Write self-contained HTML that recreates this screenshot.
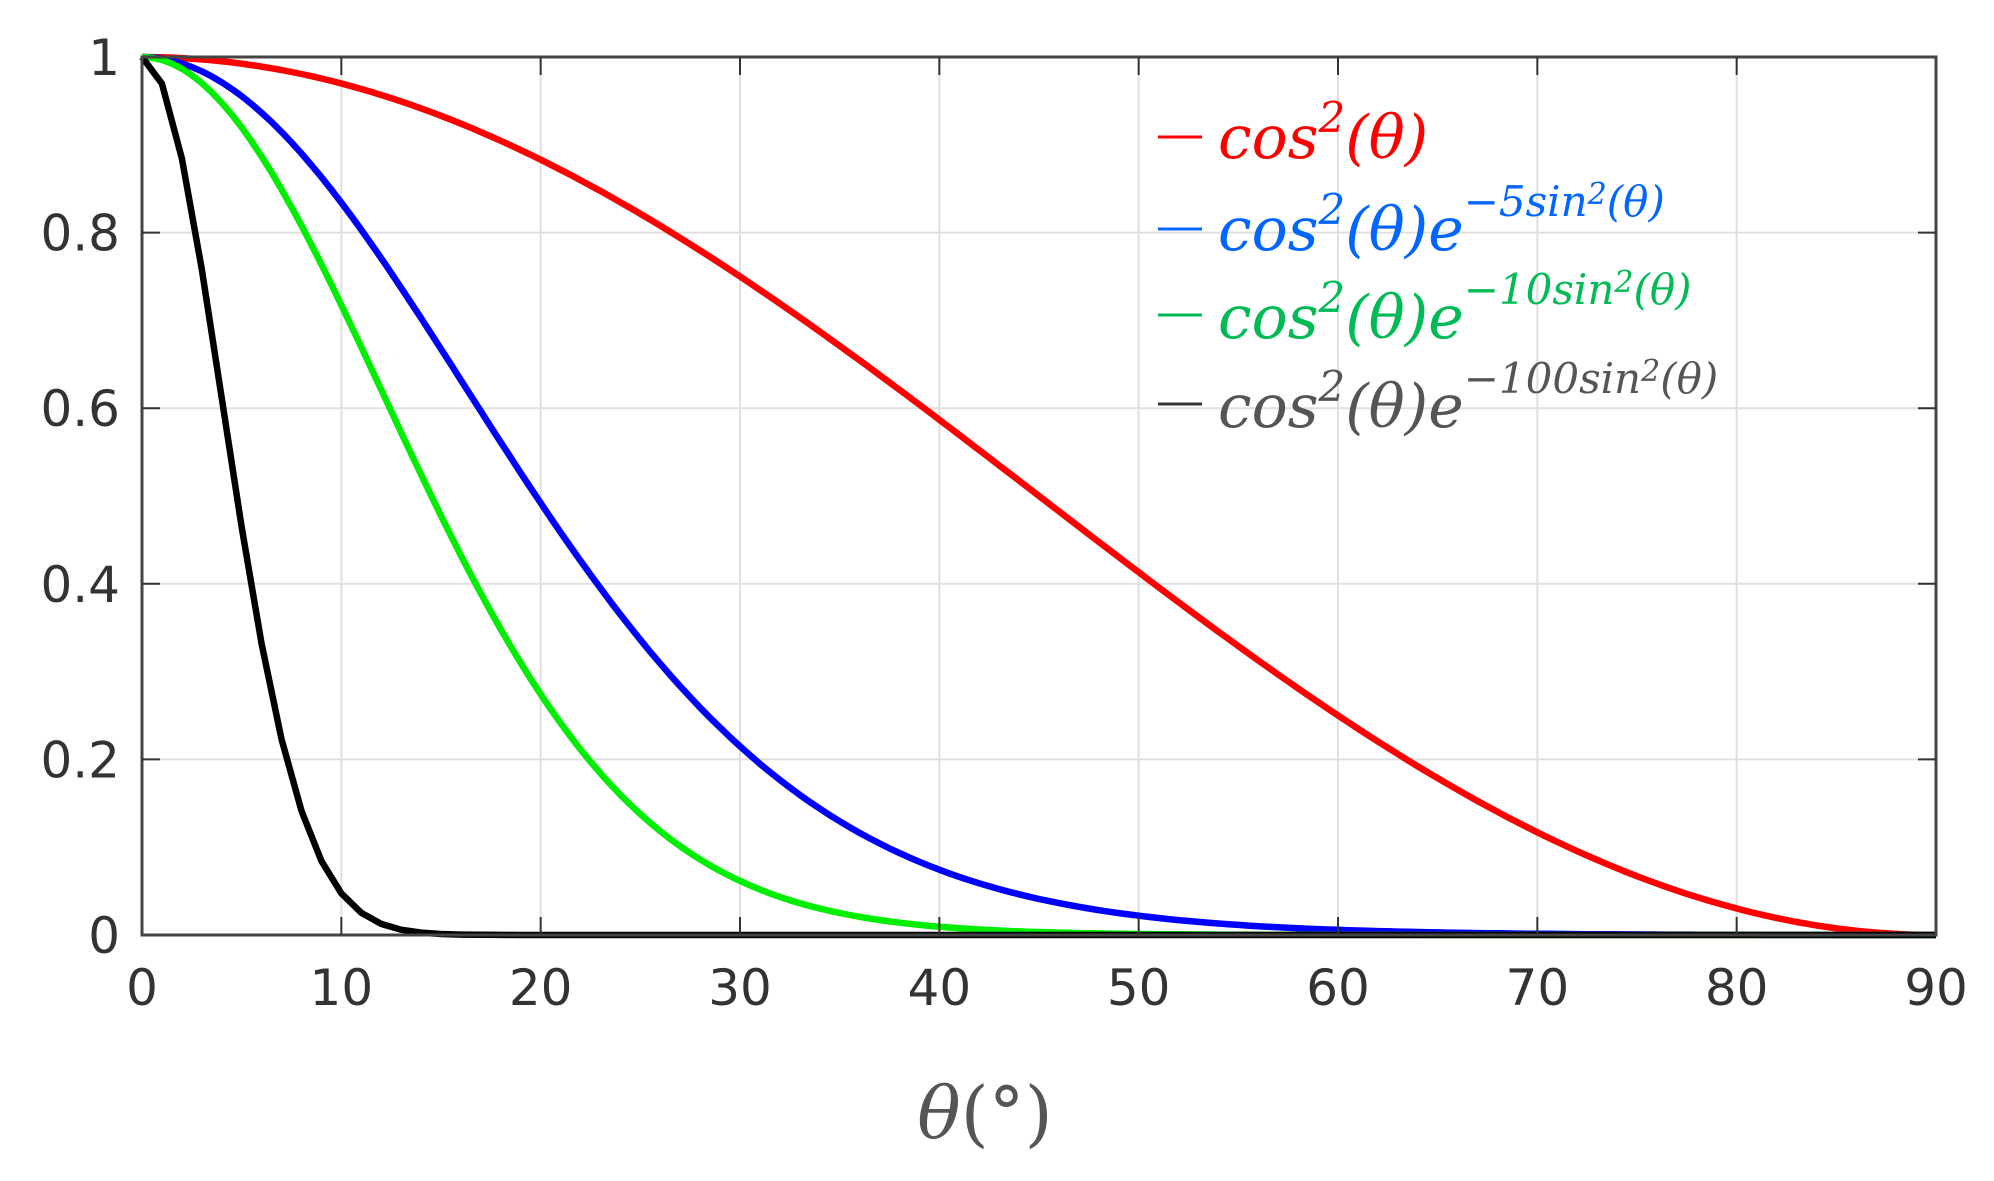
<!DOCTYPE html>
<html><head><meta charset="utf-8"><style>
body{margin:0;background:#fff;}
svg{display:block}
text{font-family:"DejaVu Sans","Liberation Sans",sans-serif;fill:#333}
.leg{font-family:"DejaVu Serif","Liberation Serif",serif;font-style:italic;font-size:60px}
</style></head><body>
<svg id="s" width="1994" height="1181" xmlns="http://www.w3.org/2000/svg">
<g id="grid" stroke="#e0e0e0" stroke-width="2"></g>
<g id="curves" fill="none" stroke-width="6.5" stroke-linejoin="round"></g>
<rect x="142" y="57" width="1794" height="878" fill="none" stroke="#444" stroke-width="3"/>
<g id="ticks" stroke="#333" stroke-width="2"></g>
<g id="labels" font-size="50"></g>
<g>
<line x1="1158" y1="137" x2="1202" y2="137" stroke="#f00" stroke-width="3"/>
<text class="leg" x="1218" y="158" style="fill:#f00">cos<tspan dy="-26" font-size="42">2</tspan><tspan dy="26">(θ)</tspan></text>
<line x1="1158" y1="229" x2="1202" y2="229" stroke="#06f" stroke-width="3"/>
<text class="leg" x="1218" y="250" style="fill:#06f">cos<tspan dy="-26" font-size="42">2</tspan><tspan dy="26">(θ)e</tspan><tspan dy="-34" font-size="42">−5sin</tspan><tspan dy="-12" font-size="30">2</tspan><tspan dy="12" font-size="42">(θ)</tspan></text>
<line x1="1158" y1="315" x2="1202" y2="315" stroke="#0b5" stroke-width="3"/>
<text class="leg" x="1218" y="338" style="fill:#0b5">cos<tspan dy="-26" font-size="42">2</tspan><tspan dy="26">(θ)e</tspan><tspan dy="-34" font-size="42">−10sin</tspan><tspan dy="-12" font-size="30">2</tspan><tspan dy="12" font-size="42">(θ)</tspan></text>
<line x1="1158" y1="404" x2="1202" y2="404" stroke="#333" stroke-width="3"/>
<text class="leg" x="1218" y="427" style="fill:#555">cos<tspan dy="-26" font-size="42">2</tspan><tspan dy="26">(θ)e</tspan><tspan dy="-34" font-size="42">−100sin</tspan><tspan dy="-12" font-size="30">2</tspan><tspan dy="12" font-size="42">(θ)</tspan></text>
</g>
<text x="985" y="1138" font-size="72" text-anchor="middle" style="fill:#555;font-family:'DejaVu Serif',serif"><tspan font-style="italic">θ</tspan>(°)</text>
</svg>
<script>
var L=142,T=57,W=1794,H=878,ns="http://www.w3.org/2000/svg";
function X(d){return L+d/90*W} function Y(v){return T+H-v*H}
function el(g,n,a,t){var e=document.createElementNS(ns,n);for(var k in a)e.setAttribute(k,a[k]);if(t!=null)e.textContent=t;document.getElementById(g).appendChild(e);}
for(var i=1;i<9;i++){el("grid","line",{x1:X(i*10),x2:X(i*10),y1:T,y2:T+H});el("ticks","line",{x1:X(i*10),x2:X(i*10),y1:T+H,y2:T+H-18});el("ticks","line",{x1:X(i*10),x2:X(i*10),y1:T,y2:T+18});}
for(var j=1;j<5;j++){var y=Y(j*0.2);el("grid","line",{x1:L,x2:L+W,y1:y,y2:y});el("ticks","line",{x1:L,x2:L+18,y1:y,y2:y});el("ticks","line",{x1:L+W-18,x2:L+W,y1:y,y2:y});}
for(var i=0;i<=9;i++)el("labels","text",{x:X(i*10),y:1005,"text-anchor":"middle"},String(i*10));
var yl=["0","0.2","0.4","0.6","0.8","1"];
for(var j=0;j<=5;j++)el("labels","text",{x:120,y:Y(j*0.2)+18,"text-anchor":"end"},yl[j]);
function curve(k,c,step){var d="";for(var a=0;a<=90.0001;a+=step){var r=a*Math.PI/180,s=Math.sin(r),v=Math.cos(r)*Math.cos(r)*Math.exp(-k*s*s);d+=(a==0?"M":"L")+X(a).toFixed(1)+","+Y(v).toFixed(1);}el("curves","path",{d:d,stroke:c});}
curve(0,"#f00",0.5);curve(5,"#00f",0.5);curve(10,"#0e0",0.5);curve(100,"#000",1);
</script>
</body></html>
